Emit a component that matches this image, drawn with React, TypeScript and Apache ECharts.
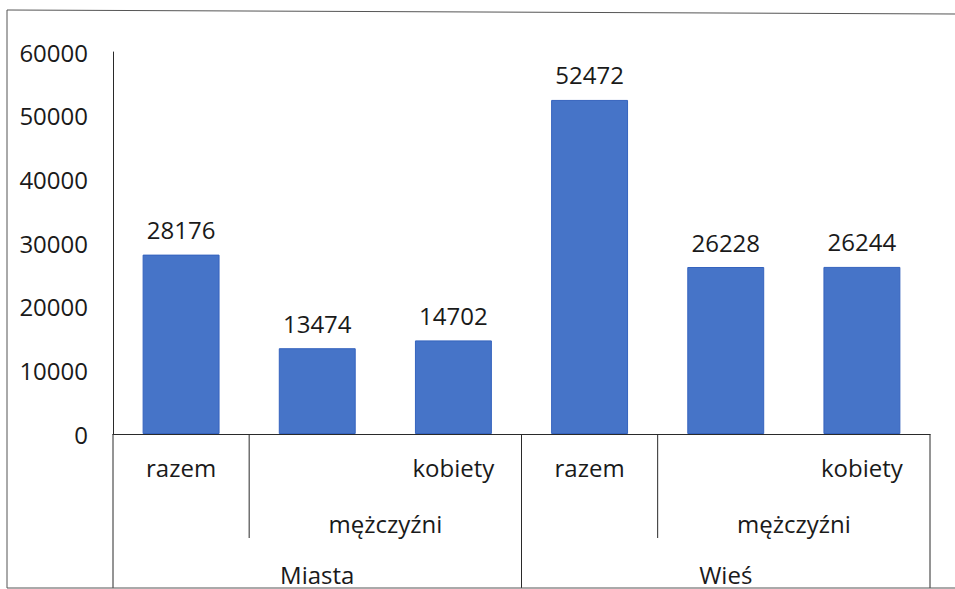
import React, { useEffect, useRef } from "react";
import * as echarts from "echarts";

const categories = ["razem", "mężczyźni", "kobiety", "razem", "mężczyźni", "kobiety"];
const groups = ["Miasta", "Wieś"];
const values = [28176, 13474, 14702, 52472, 26228, 26244];
const yMin = 0;
const yMax = 60000;
const yInterval = 10000;

const FONT = "'Open Sans', 'Noto Sans', sans-serif";
const TEXT = "#1a1a1a";
const LINE = "#2a2a2a";
const FS = 24;

export default function App() {
  const ref = useRef<HTMLDivElement>(null);
  useEffect(() => {
    if (!ref.current) return;
    const chart = echarts.init(ref.current, undefined, { renderer: "svg" });
    chart.setOption({
      animation: false,
      backgroundColor: "#ffffff",
      textStyle: { fontFamily: FONT },
      grid: { left: 113, right: 25, top: 52, bottom: 155 },
      xAxis: [
        {
          type: "category",
          data: categories,
          position: "bottom",
          axisLine: { show: true, lineStyle: { color: LINE, width: 1 } },
          axisTick: { show: false },
          axisLabel: {
            interval: 0,
            margin: 21,
            fontSize: FS,
            color: TEXT,
            fontFamily: FONT,
            formatter: (v: string, i: number) => (i === 1 || i === 4 ? "" : v),
          },
        },
        {
          type: "category",
          data: groups,
          position: "bottom",
          axisLine: { show: false },
          axisTick: { show: false },
          axisLabel: { interval: 0, margin: 128, fontSize: FS, color: TEXT, fontFamily: FONT },
        },
      ],
      yAxis: {
        type: "value",
        min: yMin,
        max: yMax,
        interval: yInterval,
        axisLine: { show: true, lineStyle: { color: LINE, width: 1 } },
        axisTick: { show: false },
        splitLine: { show: false },
        axisLabel: {
          margin: 25,
          fontSize: FS,
          color: TEXT,
          fontFamily: FONT,
          formatter: (v: number) => String(v),
        },
      },
      series: [
        {
          type: "bar",
          xAxisIndex: 0,
          data: values,
          barWidth: "56.5%",
          itemStyle: { color: "#4674C8", borderColor: "#3563BE", borderWidth: 1 },
          label: {
            show: true,
            position: "top",
            distance: 13,
            fontSize: FS,
            color: TEXT,
            fontFamily: FONT,
          },
        },
      ],
    });

    const cx = (i: number) => chart.convertToPixel({ xAxisIndex: 0 }, i) as number;
    const band = cx(1) - cx(0);
    const boundary = (i: number) => cx(0) - band / 2 + i * band;
    const yZero = chart.convertToPixel({ yAxisIndex: 0 }, 0) as number;
    const bottomY = 588;
    const shortY = 538;

    const graphic: any[] = [];
    [0, 3, 6].forEach((i) =>
      graphic.push({
        type: "line",
        shape: { x1: boundary(i), y1: yZero, x2: boundary(i), y2: bottomY },
        style: { stroke: LINE, lineWidth: 1 },
      })
    );
    [1, 4].forEach((i) =>
      graphic.push({
        type: "line",
        shape: { x1: boundary(i), y1: yZero, x2: boundary(i), y2: shortY },
        style: { stroke: LINE, lineWidth: 1 },
      })
    );
    [1, 4].forEach((i) =>
      graphic.push({
        type: "text",
        x: (cx(i) + cx(i + 1)) / 2,
        y: 523,
        style: {
          text: categories[i],
          fontSize: FS,
          fontFamily: FONT,
          fill: TEXT,
          align: "center",
          verticalAlign: "middle",
        },
      })
    );
    // scanned frame
    graphic.push({
      type: "polyline",
      shape: { points: [[955, 14], [7, 10], [7, 588], [955, 588]] },
      style: { stroke: "#555555", lineWidth: 1, fill: null },
    });
    chart.setOption({ graphic });

    return () => chart.dispose();
  }, []);
  return (
    <div
      ref={ref}
      style={{ position: "fixed", left: 0, top: 0, width: 955, height: 589 }}
    />
  );
}
